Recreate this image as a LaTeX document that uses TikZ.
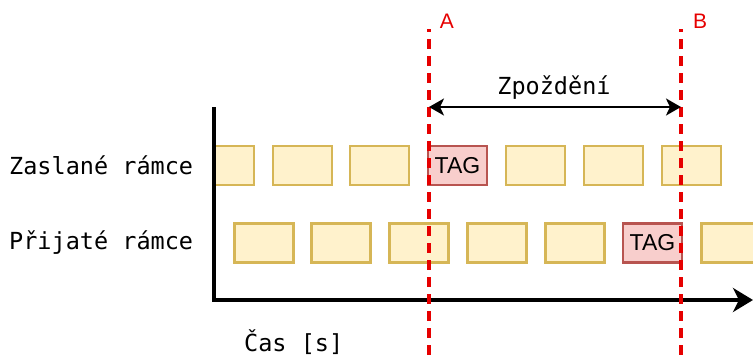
\documentclass[tikz,border=0pt]{standalone}
\usepackage{fontspec}
\setmainfont{Liberation Sans}
\newfontfamily\mymono{DejaVu Sans Mono}
\usetikzlibrary{arrows.meta}
\definecolor{frameFill}{HTML}{FFF2CC}
\definecolor{frameLine}{HTML}{D6B656}
\definecolor{tagFill}{HTML}{F8CECC}
\definecolor{tagLine}{HTML}{B85450}
\definecolor{markRed}{HTML}{E60000}
\begin{document}
\begin{tikzpicture}[x=1pt,y=-1pt,
  frame/.style={draw=frameLine,fill=frameFill,line width=2.2pt,minimum width=59pt,minimum height=39pt,inner sep=0pt},
  tagframe/.style={frame,draw=tagLine,fill=tagFill,font=\fontsize{23}{26}\selectfont},
  monotext/.style={font=\mymono\fontsize{23.5}{27}\selectfont,inner sep=0pt},
  redmark/.style={draw=markRed,line width=4.5pt,dash pattern=on 10pt off 7pt,dash phase=7pt},
  redlabel/.style={text=markRed,font=\fontsize{21}{23}\selectfont,inner sep=0pt},
  axisline/.style={draw=black,line width=4.5pt},
]
\useasboundingbox (0,0) rectangle (753,356);
\clip (0,0) rectangle (753,356);
% sent frames
\node[frame,minimum width=39pt] (s1) at (234.5,165.5) {};
\node[frame] (s2) at (302.5,165.5) {};
\node[frame] (s3) at (379.5,165.5) {};
\node[tagframe] (s4) at (457.5,165.5) {TAG};
\node[frame] (s5) at (535.5,165.5) {};
\node[frame] (s6) at (613.5,165.5) {};
\node[frame] (s7) at (691.5,165.5) {};
% received frames
\node[frame] (r1) at (264,243) {};
\node[frame] (r2) at (341,243) {};
\node[frame] (r3) at (419,243) {};
\node[frame] (r4) at (497,243) {};
\node[frame] (r5) at (575,243) {};
\node[tagframe] (r6) at (652.5,243) {TAG};
\node[frame] (r7) at (731,243) {};
% labels
\node[monotext,anchor=west] (lsent) at (9,165.5) {Zaslané rámce};
\node[monotext,anchor=west] (lrecv) at (9,243) {Přijaté rámce};
\node[monotext,anchor=west] (ltime) at (244,342) {Čas [s]};
% axes
\coordinate (ytop) at (214,107);
\coordinate (origin) at (214,300);
\coordinate (xend) at (753,300);
\draw[axisline,-{Stealth[length=20pt,width=24pt,inset=6pt]}] (ytop) -- (origin) -- (xend);
% red markers
\coordinate (Atop) at (429,29);
\coordinate (Abot) at (429,360);
\coordinate (Btop) at (681,29);
\coordinate (Bbot) at (681,360);
\draw[redmark] (Atop) -- (Abot);
\draw[redmark] (Btop) -- (Bbot);
\node[redlabel] (la) at (447,21) {A};
\node[redlabel] (lb) at (700,21) {B};
% delay
\coordinate (dA) at (429,107);
\coordinate (dB) at (681,107);
\draw[line width=2.2pt,{Stealth[length=15pt,width=17pt,inset=4pt]}-{Stealth[length=15pt,width=17pt,inset=4pt]}] (dA) -- (dB);
\node[monotext] (ldelay) at (554,88) {Zpoždění};
\end{tikzpicture}
\end{document}
